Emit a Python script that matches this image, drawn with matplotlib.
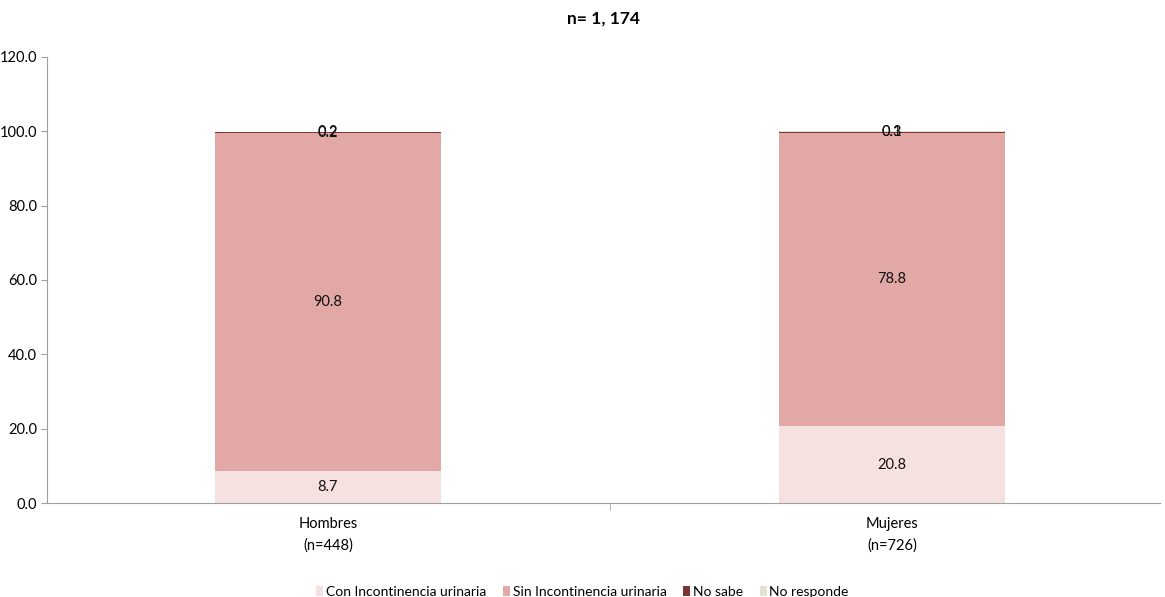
import matplotlib.pyplot as plt
import numpy as np

plt.rcParams['font.family'] = ['Lato', 'DejaVu Sans']

# data
categories = ['Hombres\n(n=448)', 'Mujeres\n(n=726)']
series = ['Con Incontinencia urinaria', 'Sin Incontinencia urinaria', 'No sabe', 'No responde']
con_inc = [8.7, 20.8]
sin_inc = [90.8, 78.8]
no_sabe = [0.2, 0.1]
no_responde = [0.2, 0.3]
colors = ['#f5e1e0', '#e1a8a6', '#7b3434', '#e6e2d0']

fig = plt.figure(figsize=(11.65, 5.97), dpi=100)
ax = fig.add_axes([0.0403, 0.157, 0.9554, 0.748])

x = np.arange(len(categories))
bottom = np.zeros(len(categories))
for vals, col, name in zip([con_inc, sin_inc, no_sabe, no_responde], colors, series):
    vals = np.array(vals)
    ax.bar(x, vals, 0.4, bottom=bottom, color=col, label=name, linewidth=0)
    for xi, b, v in zip(x, bottom, vals):
        ax.text(xi, b + v / 2, f'{v:.1f}', ha='center', va='center', fontsize=10.5, color='#111111')
    bottom += vals

ax.set_xlim(-0.498, 1.475)
ax.set_ylim(0, 120)
ax.set_yticks(np.arange(0, 121, 20))
ax.set_yticklabels([f'{v:.1f}' for v in np.arange(0, 121, 20)], fontsize=10.5)
ax.set_xticks(x)
ax.set_xticklabels(categories, fontsize=10.5, linespacing=1.6)
ax.tick_params(axis='x', length=0, pad=10)
ax.set_xticks([0.5], minor=True)
ax.tick_params(axis='x', which='minor', length=5, color='#a0a0a0')
ax.tick_params(axis='y', length=4, color='#a0a0a0', pad=3)
for s in ['top', 'right']:
    ax.spines[s].set_visible(False)
for s in ['left', 'bottom']:
    ax.spines[s].set_color('#a0a0a0')

ax.set_title('n= 1, 174', fontsize=12.5, fontweight='bold', pad=24)

fig.legend(loc='lower center', ncol=4, frameon=False, fontsize=10,
           bbox_to_anchor=(0.5, -0.022), handlelength=0.5, handleheight=0.7,
           handletextpad=0.2, columnspacing=1.2)

fig.savefig('out.png', dpi=100)
